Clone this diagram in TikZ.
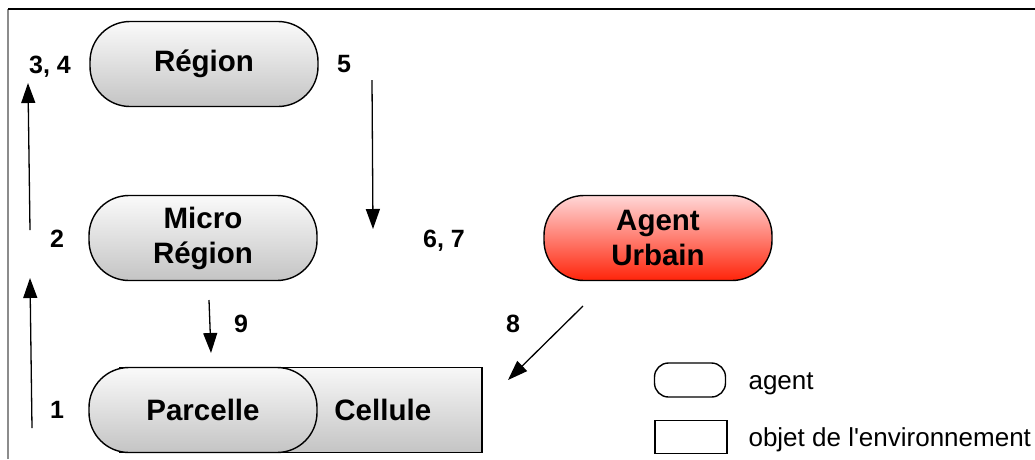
\documentclass[tikz,border=0pt]{standalone}
\usepackage{fontspec}
\setmainfont{Liberation Sans}
\usetikzlibrary{arrows.meta,positioning}
\definecolor{grtop}  {RGB}{250,250,250}
\definecolor{grbot}  {RGB}{196,196,196}
\definecolor{redtop} {RGB}{255,215,215}
\definecolor{redbot} {RGB}{255,36,10}
\definecolor{framegr}{RGB}{140,140,140}
\newcommand{\boxfont}{\bfseries\fontsize{29.5}{35}\selectfont}
\newcommand{\numfont}{\bfseries\fontsize{25}{30}\selectfont}
\newcommand{\legfont}{\fontsize{26}{30}\selectfont}

\begin{document}
\begin{tikzpicture}[
  x=1pt,y=-1pt,
  >={Triangle[length=20pt,width=14pt]},
  agent/.style ={draw,line width=1.4pt,rounded corners=40pt,
                 top color=grtop,bottom color=grbot,
                 minimum width=228pt,minimum height=85pt,
                 font=\boxfont,align=center},
  ragent/.style={agent,top color=redtop,bottom color=redbot},
  envbox/.style={draw,line width=1.4pt,top color=grtop!95!grbot,
                 bottom color=grbot,minimum width=362pt,minimum height=85pt},
  num/.style   ={font=\numfont,anchor=base},
  legtxt/.style={font=\legfont,anchor=base west},
  arr/.style   ={->,line width=1.3pt},
]
\useasboundingbox (0,0) rectangle (1035,459);

%% ── Frame ────────────────────────────────────────────────────────────────────
\draw[framegr,line width=1.2pt] (8,459) -- (8,9);
\draw[line width=1.4pt] (8,9) -- (1035,9);

%% ── Agents ───────────────────────────────────────────────────────────────────
\node[agent]  (region) at (204,64)  {Région};
\node[agent]  (micro)  at (203,238) {Micro\\Région};
\node[ragent] (urbain) at (658,238) {Agent\\Urbain};

%% ── Cellule / Parcelle ───────────────────────────────────────────────────────
\node[envbox] (cellule) at (301,410) {};
\node[font=\boxfont,anchor=east] (celtxt) at ([xshift=-48pt]cellule.east) {Cellule};
\node[agent]  (parcelle) at (203,410) {Parcelle};

%% ── Step numbers ─────────────────────────────────────────────────────────────
\node[num] (n34) at (50,73)   {3, 4};
\node[num] (n5)  at (344,72)  {5};
\node[num] (n2)  at (57,247)  {2};
\node[num] (n67) at (444,247) {6, 7};
\node[num] (n9)  at (241,332) {9};
\node[num] (n8)  at (513,332) {8};
\node[num] (n1)  at (57,418)  {1};

%% ── Arrow end points
\coordinate (a1s) at (32,428);  \coordinate (a1e) at (30,278);
\coordinate (a2s) at (30,230);  \coordinate (a2e) at (28,83);
\coordinate (a5s) at (372,80);  \coordinate (a5e) at (373,229);
\coordinate (a9s) at (209,300); \coordinate (a9e) at (211,353);
\coordinate (a8s) at (583,306); \coordinate (a8e) at (508,380);

%% ── Connections
\draw[arr] (a1s) -- (a1e);
\draw[arr] (a2s) -- (a2e);
\draw[arr] (a5s) -- (a5e);
\draw[arr] (a9s) -- (a9e);
\draw[arr] (a8s) -- (a8e);

%% ── Legend ───────────────────────────────────────────────────────────────────
\node[draw,line width=1.4pt,rounded corners=14pt,minimum width=71pt,
      minimum height=34pt] (legag) at (690,380) {};
\node[draw,line width=1.4pt,minimum width=72pt,minimum height=33pt]
      (legenv) at (691,437) {};
\node[legtxt] (legagt)  at (745,389) {agent};
\node[legtxt] (legenvt) at (745,446) {objet de l\textquotesingle environnement};

\end{tikzpicture}
\end{document}
